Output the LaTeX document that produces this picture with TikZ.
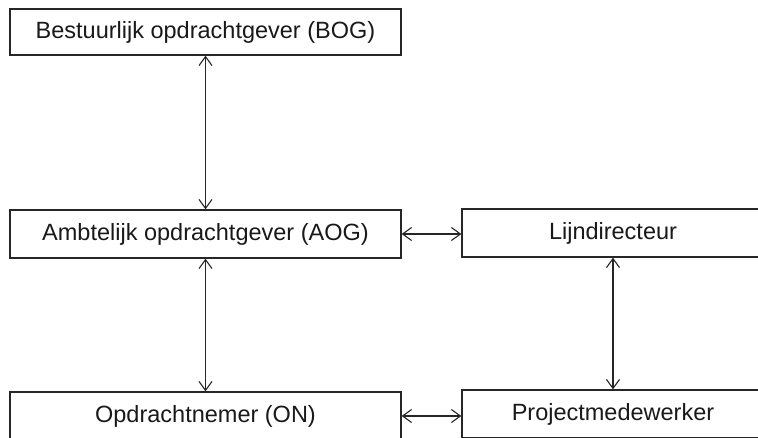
\documentclass[tikz,border=0pt]{standalone}
\usepackage{fontspec}
\setmainfont{Liberation Sans}
\usetikzlibrary{arrows.meta}
\begin{document}
\begin{tikzpicture}[x=1pt,y=-1pt,
  box/.style={draw=black!85, line width=1.3pt, fill=white, inner sep=0pt,
    font=\fontsize{23.5}{27}\selectfont, text=black!90},
  link/.style={draw=black!85, line width=1.1pt,
    {Straight Barb[length=9pt,width=13pt,line width=1.1pt]}-{Straight Barb[length=9pt,width=13pt,line width=1.1pt]}}]
\useasboundingbox[fill=white] (0,0) rectangle (758,437);
\clip (0,0) rectangle (758,437);
\node[box, minimum width=391pt, minimum height=46pt] (bog) at (205.5,32) {Bestuurlijk opdrachtgever (BOG)};
\node[box, minimum width=391pt, minimum height=48pt] (aog) at (205.5,234) {Ambtelijk opdrachtgever (AOG)};
\node[box, minimum width=302pt, minimum height=48pt] (lijn) at (613,233) {Lijndirecteur};
\node[box, minimum width=391pt, minimum height=48pt] (on) at (205.5,416) {Opdrachtnemer (ON)};
\node[box, minimum width=302pt, minimum height=48pt] (pm) at (613,414) {Projectmedewerker};
\draw[link] (bog.south) -- (aog.north);
\draw[link] (aog.south) -- (on.north);
\draw[link] (lijn.south) -- (pm.north);
\draw[link] (aog.east) -- (aog.east -| lijn.west);
\draw[link] (on.east) -- (on.east -| pm.west);
\end{tikzpicture}
\end{document}
